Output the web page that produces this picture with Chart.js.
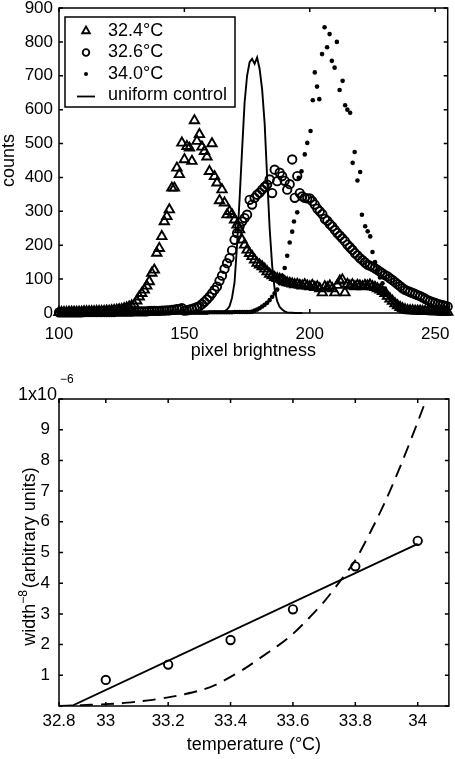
<!DOCTYPE html>
<html><head><meta charset="utf-8">
<script src="https://cdn.jsdelivr.net/npm/chart.js@4/dist/chart.umd.min.js"></script>
<style>
html,body{margin:0;padding:0;background:#fff;}
#c1{position:absolute;left:0;top:0;}
#c2{position:absolute;left:0;top:372px;}
</style></head><body>
<canvas id="c1" width="455" height="372"></canvas>
<canvas id="c2" width="455" height="387"></canvas>
<script>
// ---------- top panel: brightness histograms ----------
const BRIGHTNESS = [100,101,102,103,104,105,106,107,108,109,110,111,112,113,114,115,116,117,118,119,120,121,122,123,124,125,126,127,128,129,130,131,132,133,134,135,136,137,138,139,140,141,142,143,144,145,146,147,148,149,150,151,152,153,154,155,156,157,158,159,160,161,162,163,164,165,166,167,168,169,170,171,172,173,174,175,176,177,178,179,180,181,182,183,184,185,186,187,188,189,190,191,192,193,194,195,196,197,198,199,200,201,202,203,204,205,206,207,208,209,210,211,212,213,214,215,216,217,218,219,220,221,222,223,224,225,226,227,228,229,230,231,232,233,234,235,236,237,238,239,240,241,242,243,244,245,246,247,248,249,250,251,252,253,254,255];
const COUNTS_32_4 = [2,2,2,2,3,3,3,3,3,3, 4,4,4,4,4,5,5,5,5,6, 6,7,8,9,10,11,13,15,18,21,
  24,36,48,58,68,80,93,118,127,177, 191,226,270,285,305,369,369,428,409,502,
  453,492,487,448,568,507,527,490,477,461, 418,500,403,384,332,364,325,290,300,290,
  275,260,246,216,201,186,176,167,157,147, 142,137,130,122,115,110,105,102,100,98,
  93,90,88,86,84,85,82,80,84,80, 78,82,76,78,72,60,78,75,80,72,
  60,82,95,98,60,85,80,84,78,82, 80,78,82,80,83,78,76,72,68,64,
  58,50,42,35,28,22,17,13,10,8, 7,7,6,6,6,5,5,5,5,4, 4,4,4,3,3,3];
const COUNTS_32_6 = [2,2,2,2,2,2,2,2,2,2, 3,3,3,3,3,3,3,3,3,3, 3,3,3,4,4,4,4,4,4,4,
  5,5,5,5,5,5,6,6,6,6, 6,7,7,8,8,9,10,11,12,14,
  7,8,10,12,14,17,20,26,33,40, 48,58,68,78,95,110,130,147,162,185,
  216,236,255,270,280,290,334,320,340,349, 355,364,372,379,394,354,423,389,414,404,
  390,364,380,453,340,404,354,344,340,338, 338,330,320,308,300,292,278,272,262,255,
  245,236,228,220,212,202,194,186,177,170, 162,156,149,143,140,136,132,127,122,117,
  112,108,102,97,91,85,79,73,68,65, 62,59,56,53,50,46,42,38,35,32, 30,27,25,23,21,19];
const DOT_BRIGHTNESS = [100,101,102,103,104,105,106,107,108,109,110,111,112,113,114,115,116,117,118,119,120,121,122,123,124,125,126,127,128,129,130,131,132,133,134,135,136,137,138,139,140,141,142,143,144,145,146,147,148,149,150,151,152,153,154,155,156,157,158,159,160,161,162,163,164,165,166,167,168,169,170,171,172,173,174,175,176,
  177,178,179,180,181,182,183,184,185,186,187,188,189,190,191,192,193,193.7,195,195.6,196.7,198,199,200.3,201.2,202,202.9,203.8,204.9,205.9,206.9,207.9,208.8,209.9,210.8,211.9,213.1,214.1,215,216.1,217.1,217.9,219,220.1,220.8,222.1,223.1,224.1,225,226,227,228,229,230,231,232,233,234,235,236,237,238,239,240,241,242,243,244,245,246,247,248,249,250,251,252,253,254,255];
const COUNTS_34_0 = [1,1,1,1,1,1,1,1,1,1, 1,1,1,1,1,1,1,1,1,1, 1,1,1,1,1,1,1,1,1,1, 1,1,1,1,1,1,1,1,1,1, 1,1,1,1,1,1,1,1,1,1, 1,1,1,1,1,1,1,1,1,1,
  2,2,2,2,2,2,2,2,2,2,3,3,3,3,3,3,3,
  4,7,10,14,19,24,30,38,48,58,69,88,110,133,169,208,240,270,297,399,418,468,502,537,628,710,668,631,764,843,784,823,744,724,800,658,685,613,600,591,443,475,391,416,290,256,241,226,180,150,125,105,88,72,58,45,35,26,19,14,10,7,5,4,3,3,2,2,2,2,2,2,2,2,1,1,1,1,1];
const CONTROL_BRIGHTNESS = [160,161,162,163,164,165,166,167,168,169,170,171,172,173,174,175,176,177,178,179,180,181,182,183,184,185,186,187,188,189,190,191,192,193,194,195,196,197];
const COUNTS_CONTROL = [0,0,1,1,2,3,5,10,20,45,90,200,335,480,620,700,740,750,735,754,720,660,560,400,250,140,70,35,18,10,5,2,1,1,0,0,0,0];
const X1_TICKS = [100,150,200,250];

// ---------- bottom panel: width^-8 vs temperature ----------
const TEMPERATURE = [33,33.2,33.4,33.6,33.8,34];
const WIDTH_M8 = [0.85,1.35,2.15,3.15,4.55,5.38];
const FIT_TEMPERATURE = [32.89,34];
const FIT_WIDTH_M8 = [0,5.28];
const CURVE_TEMPERATURE = [32.85,32.9,32.95,33.0,33.05,33.1,33.15,33.2,33.25,33.3,33.35,33.4,33.45,33.5,33.55,33.6,33.65,33.7,33.75,33.8,33.85,33.9,33.95,34.0,34.05];
const CURVE_WIDTH_M8 = [0.0,0.02,0.04,0.06,0.09,0.14,0.2,0.28,0.38,0.5,0.68,0.95,1.25,1.6,1.95,2.35,2.85,3.4,4.05,4.75,5.7,6.75,7.95,9.25,10.6];
const X2_TICKS = [32.85,33,33.2,33.4,33.6,33.8,34];
const X2_LABELS = ['32.8','33','33.2','33.4','33.6','33.8','34'];
const Y2_LABELS = ['','1','2','3','4','5','6','7','8','9',''];

const FONT = '"Liberation Sans", Arial, Helvetica, sans-serif';
Chart.defaults.font.family = FONT;
Chart.defaults.color = '#000';

const framePlugin = {
  id: 'frame',
  afterDatasetsDraw(chart) {
    const {ctx, chartArea: a, scales: {x, y}} = chart;
    ctx.save();
    ctx.strokeStyle = '#000';
    ctx.lineWidth = 1.5;
    ctx.strokeRect(a.left, a.top, a.right - a.left, a.bottom - a.top);
    const L = 4;
    ctx.beginPath();
    x.ticks.forEach(t => {
      const p = x.getPixelForValue(t.value);
      ctx.moveTo(p, a.bottom); ctx.lineTo(p, a.bottom - L);
      ctx.moveTo(p, a.top); ctx.lineTo(p, a.top + L);
    });
    y.ticks.forEach(t => {
      const p = y.getPixelForValue(t.value);
      ctx.moveTo(a.left, p); ctx.lineTo(a.left + L, p);
      ctx.moveTo(a.right, p); ctx.lineTo(a.right - L, p);
    });
    ctx.stroke();
    ctx.restore();
  }
};

const legendPlugin = {
  id: 'boxLegend',
  afterDraw(chart) {
    const {ctx, chartArea: a} = chart;
    const bx = a.left + 6, by = a.top + 9, bw = 170, bh = 90;
    ctx.save();
    ctx.fillStyle = '#fff';
    ctx.fillRect(bx, by, bw, bh);
    ctx.strokeStyle = '#000';
    ctx.lineWidth = 1.5;
    ctx.strokeRect(bx, by, bw, bh);
    ctx.font = '18px ' + FONT;
    ctx.textBaseline = 'middle';
    ctx.textAlign = 'left';
    const mx = 86, tx = 108;
    chart.data.datasets.forEach((ds, i) => {
      const yy = by + 14 + i * 21.5;
      ctx.fillStyle = '#000';
      ctx.strokeStyle = '#000';
      ctx.lineWidth = 1.8;
      ctx.beginPath();
      if (ds.legendMarker === 'triangle') {
        const r = 4.5;
        ctx.moveTo(mx, yy - r);
        ctx.lineTo(mx + r * 0.866, yy + r * 0.5);
        ctx.lineTo(mx - r * 0.866, yy + r * 0.5);
        ctx.closePath();
        ctx.stroke();
      } else if (ds.legendMarker === 'circle') {
        ctx.arc(mx, yy, 3.3, 0, Math.PI * 2);
        ctx.stroke();
      } else if (ds.legendMarker === 'dot') {
        ctx.arc(mx, yy, 2, 0, Math.PI * 2);
        ctx.fill();
      } else {
        ctx.moveTo(mx - 9, yy + 1); ctx.lineTo(mx + 9, yy + 1);
        ctx.stroke();
      }
      ctx.fillText(ds.label, tx, yy);
    });
    ctx.restore();
  }
};

const pairs = (xs, ys) => xs.map((v, i) => ({x: v, y: ys[i]}));

new Chart(document.getElementById('c1'), {
  type: 'scatter',
  data: { datasets: [
    { label: '32.4°C', legendMarker: 'triangle', data: pairs(BRIGHTNESS, COUNTS_32_4),
      pointStyle: 'triangle', pointRadius: 5.4, pointBorderWidth: 1.9, borderWidth: 1.9,
      borderColor: '#000', backgroundColor: 'rgba(0,0,0,0)', pointBackgroundColor: 'rgba(0,0,0,0)', clip: 8 },
    { label: '32.6°C', legendMarker: 'circle', data: pairs(BRIGHTNESS, COUNTS_32_6),
      pointStyle: 'circle', pointRadius: 4.2, pointBorderWidth: 1.9, borderWidth: 1.9,
      borderColor: '#000', backgroundColor: 'rgba(0,0,0,0)', pointBackgroundColor: 'rgba(0,0,0,0)', clip: 8 },
    { label: '34.0°C', legendMarker: 'dot', data: pairs(DOT_BRIGHTNESS, COUNTS_34_0),
      pointStyle: 'circle', pointRadius: 2.3, pointBorderWidth: 0, borderWidth: 0,
      borderColor: '#000', backgroundColor: '#000', pointBackgroundColor: '#000', clip: 8 },
    { label: 'uniform control', legendMarker: 'line', data: pairs(CONTROL_BRIGHTNESS, COUNTS_CONTROL),
      showLine: true, pointRadius: 0, borderWidth: 1.9, borderColor: '#000', backgroundColor: '#000', tension: 0, clip: 8 }
  ]},
  options: {
    responsive: false, animation: false, devicePixelRatio: 1, events: [],
    layout: { padding: { top: 8, right: 5, left: 0, bottom: 0 } },
    plugins: { legend: { display: false }, tooltip: { enabled: false } },
    scales: {
      x: { type: 'linear', position: 'bottom', min: 100, max: 255,
        grid: { display: false, drawTicks: false }, border: { display: false },
        afterBuildTicks: s => { s.ticks = X1_TICKS.map(v => ({value: v})); },
        ticks: { font: { size: 17 }, padding: 11, maxRotation: 0, autoSkip: false, color: '#000' },
        title: { display: true, text: 'pixel brightness', color: '#000', font: { size: 18, lineHeight: 1 }, padding: { top: 0, bottom: 12 } },
        afterFit: s => { s.height = 59; s.paddingLeft = 0; s.paddingRight = 0; } },
      y: { type: 'linear', min: 0, max: 900,
        grid: { display: false, drawTicks: false }, border: { display: false },
        ticks: { stepSize: 100, font: { size: 17 }, padding: 6, color: '#000' },
        title: { display: true, text: 'counts', color: '#000', font: { size: 18, lineHeight: 1 }, padding: { top: 0, bottom: 0 } },
        afterFit: s => { s.width = 59; s.paddingTop = 0; s.paddingBottom = 0; } }
    }
  },
  plugins: [framePlugin, legendPlugin]
});

const bottomLabels = {
  id: 'bottomLabels',
  afterDraw(chart) {
    const {ctx} = chart;
    ctx.save();
    ctx.fillStyle = '#000';
    // exponent label
    ctx.font = '18px ' + FONT;
    ctx.textAlign = 'right';
    ctx.textBaseline = 'middle';
    ctx.fillText('1x10', 57, 23);
    ctx.font = '12px ' + FONT;
    ctx.textAlign = 'left';
    ctx.fillText('\u22126', 60, 8);
    // rotated y-axis title with superscript
    const p1 = 'width', p2 = '\u22128', p3 = '(arbitrary units)';
    ctx.font = '18px ' + FONT;
    const w1 = ctx.measureText(p1).width, w3 = ctx.measureText(p3).width;
    ctx.font = '12px ' + FONT;
    const w2 = ctx.measureText(p2).width + 2;
    const W = w1 + w2 + w3;
    ctx.translate(35, 184.5);
    ctx.rotate(-Math.PI / 2);
    ctx.textBaseline = 'alphabetic';
    ctx.textAlign = 'left';
    ctx.font = '18px ' + FONT;
    ctx.fillText(p1, -W / 2, 0);
    ctx.font = '12px ' + FONT;
    ctx.fillText(p2, -W / 2 + w1, -8);
    ctx.font = '18px ' + FONT;
    ctx.fillText(p3, -W / 2 + w1 + w2, 0);
    ctx.restore();
  }
};

new Chart(document.getElementById('c2'), {
  type: 'scatter',
  data: { datasets: [
    { label: 'measured', data: pairs(TEMPERATURE, WIDTH_M8),
      pointStyle: 'circle', pointRadius: 4.2, pointBorderWidth: 1.9, borderWidth: 1.9,
      borderColor: '#000', backgroundColor: 'rgba(0,0,0,0)', pointBackgroundColor: 'rgba(0,0,0,0)', clip: 8 },
    { label: 'linear fit', data: pairs(FIT_TEMPERATURE, FIT_WIDTH_M8),
      showLine: true, pointRadius: 0, borderWidth: 1.9, borderColor: '#000', tension: 0 },
    { label: 'exponential fit', data: pairs(CURVE_TEMPERATURE, CURVE_WIDTH_M8),
      showLine: true, pointRadius: 0, borderWidth: 1.9, borderColor: '#000', borderDash: [13, 8], tension: 0.3, clip: 0 }
  ]},
  options: {
    responsive: false, animation: false, devicePixelRatio: 1, events: [],
    layout: { padding: { top: 27, right: 5, left: 0, bottom: 0 } },
    plugins: { legend: { display: false }, tooltip: { enabled: false } },
    scales: {
      x: { type: 'linear', position: 'bottom', min: 32.85, max: 34.1,
        grid: { display: false, drawTicks: false }, border: { display: false },
        afterBuildTicks: s => { s.ticks = X2_TICKS.map(v => ({value: v})); },
        ticks: { font: { size: 17 }, padding: 5, maxRotation: 0, autoSkip: false, color: '#000',
          callback: (v, i) => X2_LABELS[i] },
        title: { display: true, text: 'temperature (°C)', color: '#000', font: { size: 18, lineHeight: 1 }, padding: { top: 0, bottom: 5 } },
        afterFit: s => { s.height = 53; s.paddingLeft = 0; s.paddingRight = 0; } },
      y: { type: 'linear', min: 0, max: 10,
        grid: { display: false, drawTicks: false }, border: { display: false },
        ticks: { stepSize: 1, font: { size: 17 }, padding: 9, color: '#000', callback: (v, i) => Y2_LABELS[i] },
        title: { display: false },
        afterFit: s => { s.width = 59; s.paddingTop = 0; s.paddingBottom = 0; } }
    }
  },
  plugins: [framePlugin, bottomLabels]
});
</script>
</body></html>
